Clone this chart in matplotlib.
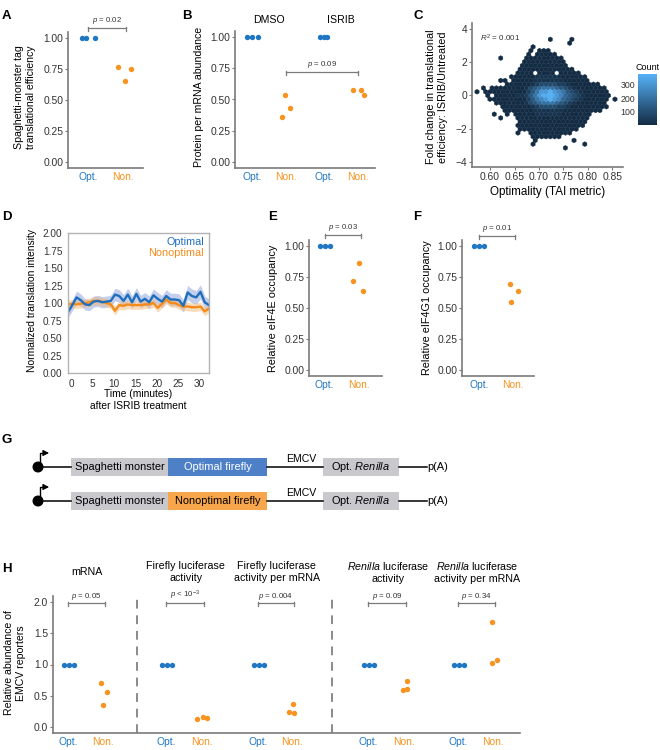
import numpy as np
import matplotlib
matplotlib.use('Agg')
import matplotlib.pyplot as plt
from matplotlib.colors import LinearSegmentedColormap, Normalize
from matplotlib.patches import Rectangle, Circle

plt.rcParams['font.family'] = ['Liberation Sans', 'DejaVu Sans']
plt.rcParams['mathtext.fontset'] = 'custom'
plt.rcParams['mathtext.rm'] = 'Liberation Sans'
plt.rcParams['mathtext.it'] = 'Liberation Sans:italic'
plt.rcParams['mathtext.bf'] = 'Liberation Sans:bold'

BLUE = '#1f77c4'
ORANGE = '#f7931e'
AXIS = '#7a7a7a'
TXT = '#333333'

# ---- data ----
# A: spaghetti-monster tag translational efficiency
a_opt = [1.00, 1.00, 1.00]
a_non = [0.77, 0.65, 0.75]

# B: protein per mRNA abundance, DMSO vs ISRIB
b_dmso_opt = [1.00, 1.00, 1.00]
b_dmso_non = [0.36, 0.54, 0.43]
b_isrib_opt = [1.00, 1.00, 1.00]
b_isrib_non = [0.58, 0.58, 0.54]

# C: hexbin counts, one string per hex row (top row first), '.' = empty cell
hex_levels = {'0': 3, '1': 25, '2': 55, '3': 90, '4': 130, '5': 170,
              '6': 210, '7': 260, '8': 310, '9': 370}
hex_top_row = 31
hex_rows = [
    "..................0....0...........",
    ".......................0...........",
    "..............0....................",
    "..............0.000................",
    ".............0.00000...............",
    ".......0.....000000000.............",
    "............0000000000.............",
    "............00000000000............",
    "...........0000000000000...........",
    "...........0000.0000.00000.........",
    ".........000000111111000000........",
    ".......00.000001111111000000......",
    "........0000001233332210000000.....",
    "...0.000000001345666543210000000....",
    ".0.00000000002468898764321000000....",
    "....0.000001124689998754321000000...",
    "....0000000002467898754321000000.0..",
    "......00000001345666543210000000....",
    ".......0000000123333221000000000.....",
    "........00000001111111000000000......",
    ".....0..0.000001111110000000.......",
    ".......0...00000000000000000.......",
    "...........0000000000000000........",
    "...........0000000000000000........",
    "...........00000000000000..........",
    "...........0..0000000000...........",
    "..............0000000..............",
    "...............0........0..........",
    "..............0...........0........",
    "......................0............",
]
c_r2 = '$\\it{R}^2$ = 0.001'

# D: normalized translation intensity after ISRIB (minutes)
d_time = [-0.8, 0.2, 1.2, 2.2, 3.2, 4.2, 5.2, 6.2, 7.2, 8.2, 9.2, 10.2,
          11.2, 12.2, 13.2, 14.2, 15.2, 16.2, 17.2, 18.2, 19.2, 20.2, 21.2,
          22.2, 23.2, 24.2, 25.2, 26.2, 27.2, 28.2, 29.2, 30.2, 31.2, 32.2]
d_opt = [0.87, 0.97, 1.08, 1.04, 0.98, 0.97, 1.02, 1.03, 1.01, 1.02, 1.03, 1.12,
         1.10, 1.03, 1.12, 1.01, 1.13, 1.02, 1.06, 1.01, 1.11, 1.06, 1.02,
         1.10, 1.05, 1.05, 1.04, 0.96, 1.15, 1.10, 1.08, 1.16, 1.01, 0.97]
d_non = [0.98, 0.99, 0.98, 0.99, 1.00, 1.01, 1.03, 1.03, 1.02, 1.00, 0.98, 0.89,
         0.97, 0.96, 0.98, 0.97, 0.97, 0.97, 0.98, 0.98, 1.00, 0.93, 0.99,
         1.05, 1.00, 1.00, 0.97, 0.95, 0.95, 0.94, 0.94, 0.95, 0.88, 0.92]
d_opt_err = [0.08, 0.08, 0.09, 0.09, 0.08, 0.08, 0.08, 0.08, 0.08, 0.08, 0.08, 0.09,
             0.09, 0.09, 0.09, 0.09, 0.09, 0.09, 0.09, 0.09, 0.09, 0.09, 0.09,
             0.09, 0.09, 0.09, 0.09, 0.09, 0.10, 0.10, 0.10, 0.10, 0.09, 0.09]
d_non_err = [0.06, 0.06, 0.06, 0.06, 0.06, 0.06, 0.06, 0.06, 0.06, 0.06, 0.06, 0.06,
             0.06, 0.06, 0.06, 0.06, 0.06, 0.06, 0.06, 0.06, 0.06, 0.06, 0.06,
             0.06, 0.06, 0.06, 0.06, 0.06, 0.06, 0.06, 0.06, 0.06, 0.06, 0.06]

# E, F: relative eIF4E / eIF4G1 occupancy
e_opt = [1.00, 1.00, 1.00]
e_non = [0.72, 0.86, 0.64]
f_opt = [1.00, 1.00, 1.00]
f_non = [0.69, 0.55, 0.64]

# G: reporter constructs
g_firefly = ['Optimal firefly', 'Nonoptimal firefly']

# H: relative abundance of EMCV reporters
h_titles = ['mRNA', 'Firefly luciferase\nactivity', 'Firefly luciferase\nactivity per mRNA',
            '$\\it{Renilla}$ luciferase\nactivity', '$\\it{Renilla}$ luciferase\nactivity per mRNA']
h_opt = [[1.0, 1.0, 1.0], [1.0, 1.0, 1.0], [1.0, 1.0, 1.0], [1.0, 1.0, 1.0], [1.0, 1.0, 1.0]]
h_non = [[0.70, 0.56, 0.35], [0.13, 0.16, 0.14], [0.24, 0.37, 0.22],
         [0.73, 0.60, 0.61], [1.68, 1.03, 1.07]]
h_p = ['$\\it{p}$ = 0.05', '$\\it{p}$ < 10$^{-3}$', '$\\it{p}$ = 0.004',
       '$\\it{p}$ = 0.09', '$\\it{p}$ = 0.34']

cats = ['Opt.', 'Non.']
cat_colors = [BLUE, ORANGE]

# ---- layout helpers ----
W, H = 660, 750
fig = plt.figure(figsize=(6.6, 7.5), dpi=100)


def px_axes(x0, y0, x1, y1):
    return fig.add_axes([x0 / W, 1 - y1 / H, (x1 - x0) / W, (y1 - y0) / H])


def ftext(x, y, s, **kw):
    kw.setdefault('color', 'black')
    fig.text(x / W, 1 - y / H, s, **kw)


def classic(ax, ticklen=2.0):
    ax.spines[['top', 'right']].set_visible(False)
    ax.spines[['left', 'bottom']].set_color(AXIS)
    ax.spines[['left', 'bottom']].set_linewidth(1.2)
    ax.tick_params(color=AXIS, labelcolor=TXT, labelsize=7.4, length=ticklen,
                   width=0.8, pad=1.5)


def cat_ticks(ax, pos, labels, colors):
    ax.set_xticks(pos, labels)
    for t, c in zip(ax.get_xticklabels(), colors):
        t.set_color(c)
    ax.tick_params(axis='x', length=0, pad=3, labelsize=7.4)


def dots(ax, x, vals, jit, color):
    ax.scatter(np.asarray(jit) + x, vals, s=15, color=color, lw=0, zorder=3, clip_on=False)


def bracket(ax, x1, x2, y, label, tick, size=5.6):
    ax.plot([x1, x2], [y, y], color=AXIS, lw=0.9, clip_on=False)
    for xx in (x1, x2):
        ax.plot([xx, xx], [y - tick, y + tick * 0.4], color=AXIS, lw=0.9, clip_on=False)
    ax.text((x1 + x2) / 2, y + tick * 0.6, label, ha='center', va='bottom',
            fontsize=size, color=TXT, clip_on=False)


def letter(x, y, s):
    ftext(x, y, s, fontsize=9.5, fontweight='bold', ha='left', va='center')


# ---- A ----
ax = px_axes(68, 31.8, 143, 168.2)
classic(ax)
dots(ax, 1, a_opt, [-0.2, -0.06, 0.18], BLUE)
dots(ax, 2, a_non, [-0.12, 0.06, 0.26], ORANGE)
ax.set_xlim(0.4, 2.6)
ax.set_ylim(-0.05, 1.05)
ax.set_yticks([0, 0.25, 0.5, 0.75, 1.0], ['0.00', '0.25', '0.50', '0.75', '1.00'])
cat_ticks(ax, [1, 2], cats, cat_colors)
bracket(ax, 1.0, 2.09, 1.08, '$\\it{p}$ = 0.02', 0.025)
ftext(25, 97, 'Spaghetti-monster tag\ntranslational efficiency', rotation=90,
      ha='center', va='center', fontsize=7.6, linespacing=1.25)
letter(2, 16, 'A')

# ---- B ----
ax = px_axes(235, 30.8, 375, 168.2)
classic(ax)
bpos = [1, 2, 3.1, 4.1]
dots(ax, bpos[0], b_dmso_opt, [-0.14, 0.0, 0.17], BLUE)
dots(ax, bpos[1], b_dmso_non, [-0.12, -0.03, 0.11], ORANGE)
dots(ax, bpos[2], b_isrib_opt, [-0.11, 0.0, 0.09], BLUE)
dots(ax, bpos[3], b_isrib_non, [-0.15, 0.09, 0.18], ORANGE)
ax.set_xlim(0.5, 4.6)
ax.set_ylim(-0.05, 1.05)
ax.set_yticks([0, 0.25, 0.5, 0.75, 1.0], ['0.00', '0.25', '0.50', '0.75', '1.00'])
cat_ticks(ax, bpos, cats * 2, cat_colors * 2)
bracket(ax, bpos[1], bpos[3], 0.72, '$\\it{p}$ = 0.09', 0.025)
ax.text(1.5, 1.14, 'DMSO', ha='center', va='center', fontsize=7.6, clip_on=False)
ax.text(3.6, 1.14, 'ISRIB', ha='center', va='center', fontsize=7.6, clip_on=False)
ftext(199, 97, 'Protein per mRNA abundance', rotation=90, ha='center', va='center',
      fontsize=7.6)
letter(182, 16, 'B')

# ---- C ----
ax = px_axes(472, 23, 623, 167)
classic(ax)
hx_ext = (0.56, 0.86, -3.6, 3.6)
hx_n = (34, 16)
sx = (hx_ext[1] - hx_ext[0]) / hx_n[0]
sy = (hx_ext[3] - hx_ext[2]) / hx_n[1]
hx, hy, hc = [], [], []
for r, row in enumerate(hex_rows):
    k = hex_top_row - r
    for i, ch in enumerate(row):
        if ch == '.':
            continue
        hx.append(hx_ext[0] + (i + 0.5 * (k % 2)) * sx)
        hy.append(hx_ext[2] + k * sy / 2)
        hc.append(hex_levels[ch])
cmap = LinearSegmentedColormap.from_list('gg', ['#132B43', '#56B1F7'])
hb = ax.hexbin(hx, hy, C=hc, gridsize=hx_n, extent=hx_ext, reduce_C_function=np.sum,
               cmap=cmap, norm=Normalize(1, 380), linewidths=0.25, edgecolors='face')
ax.set_xlim(0.563, 0.872)
ax.set_ylim(-4.3, 4.36)
ax.set_xticks([0.60, 0.65, 0.70, 0.75, 0.80, 0.85],
              ['0.60', '0.65', '0.70', '0.75', '0.80', '0.85'])
ax.set_yticks([-4, -2, 0, 2, 4])
ax.text(0.580, 3.45, c_r2, fontsize=5.8, color=TXT, va='center')
ftext(548, 192, 'Optimality (TAI metric)', ha='center', va='center', fontsize=8.4)
ftext(437, 97, 'Fold change in translational\nefficiency: ISRIB/Untreated', rotation=90,
      ha='center', va='center', fontsize=7.8, linespacing=1.2)
letter(413, 16, 'C')
cax = px_axes(638, 74, 657, 125)
cb = fig.colorbar(hb, cax=cax)
cb.outline.set_visible(False)
cb.set_ticks([100, 200, 300])
cax.yaxis.set_ticks_position('left')
cax.tick_params(length=0, labelsize=6.3, labelcolor=TXT, pad=2)
ftext(648, 67, 'Count', ha='center', va='center', fontsize=6.5)

# ---- D ----
ax = px_axes(68, 233, 209, 373)
for s in ax.spines.values():
    s.set_color('#b3b3b3')
    s.set_linewidth(1.0)
ax.tick_params(length=0, labelsize=7.2, labelcolor=TXT, pad=4)
t = np.asarray(d_time)
lo_o = np.asarray(d_opt) - np.asarray(d_opt_err)
hi_o = np.asarray(d_opt) + np.asarray(d_opt_err)
lo_n = np.asarray(d_non) - np.asarray(d_non_err)
hi_n = np.asarray(d_non) + np.asarray(d_non_err)
ax.fill_between(t, lo_o, hi_o, color='#7d96d8', alpha=0.45, lw=0)
ax.fill_between(t, lo_n, hi_n, color='#f6b36a', alpha=0.45, lw=0)
ax.plot(t, d_non, color='#f48b1a', lw=1.7)
ax.plot(t, d_opt, color='#1f6fbd', lw=1.7)
ax.set_xlim(-0.8, 32.2)
ax.set_ylim(0, 2)
ax.set_xticks([0, 5, 10, 15, 20, 25, 30])
ax.set_yticks([0, 0.25, 0.5, 0.75, 1.0, 1.25, 1.5, 1.75, 2.0],
              ['0.00', '0.25', '0.50', '0.75', '1.00', '1.25', '1.50', '1.75', '2.00'])
ax.text(0.965, 0.935, 'Optimal', color='#1f6fbd', ha='right', va='center',
        transform=ax.transAxes, fontsize=7.8)
ax.text(0.965, 0.86, 'Nonoptimal', color='#f48b1a', ha='right', va='center',
        transform=ax.transAxes, fontsize=7.8)
ftext(32, 301, 'Normalized translation intensity', rotation=90, ha='center',
      va='center', fontsize=7.4)
ftext(138, 400, 'Time (minutes)\nafter ISRIB treatment', ha='center', va='center',
      fontsize=7.4, linespacing=1.2)
letter(2, 217, 'D')

# ---- E ----
ax = px_axes(309, 239.8, 382, 376.2)
classic(ax)
dots(ax, 1, e_opt, [-0.14, 0.0, 0.14], BLUE)
dots(ax, 2, e_non, [-0.17, 0.0, 0.11], ORANGE)
ax.set_xlim(0.55, 2.65)
ax.set_ylim(-0.05, 1.05)
ax.set_yticks([0, 0.25, 0.5, 0.75, 1.0], ['0.00', '0.25', '0.50', '0.75', '1.00'])
cat_ticks(ax, [1, 2], cats, cat_colors)
bracket(ax, 1.0, 2.06, 1.09, '$\\it{p}$ = 0.03', 0.025)
ftext(273, 308, 'Relative eIF4E occupancy', rotation=90, ha='center', va='center',
      fontsize=7.8)
letter(268, 217, 'E')

# ---- F ----
ax = px_axes(462, 239.8, 534, 376.2)
classic(ax)
dots(ax, 1, f_opt, [-0.14, 0.0, 0.14], BLUE)
dots(ax, 2, f_non, [-0.11, -0.06, 0.14], ORANGE)
ax.set_xlim(0.5, 2.6)
ax.set_ylim(-0.05, 1.05)
ax.set_yticks([0, 0.25, 0.5, 0.75, 1.0], ['0.00', '0.25', '0.50', '0.75', '1.00'])
cat_ticks(ax, [1, 2], cats, cat_colors)
bracket(ax, 1.0, 2.06, 1.08, '$\\it{p}$ = 0.01', 0.025)
ftext(427, 308, 'Relative eIF4G1 occupancy', rotation=90, ha='center', va='center',
      fontsize=7.8)
letter(413, 217, 'F')

# ---- G ----
gx = px_axes(0, 440, 660, 520)
gx.set_xlim(0, 660)
gx.set_ylim(520, 440)
gx.axis('off')
g_colors = ['#4d80c6', '#f8a64c']
g_text = ['white', 'black']
for j, (lab, col, tc) in enumerate(zip(g_firefly, g_colors, g_text)):
    yc = 467 + 34 * j
    gx.plot([38, 71], [yc, yc], color='black', lw=1.1)
    gx.plot([39.5, 39.5, 45], [yc, yc - 14, yc - 14], color='black', lw=1.0)
    gx.annotate('', xy=(49, yc - 14), xytext=(44, yc - 14),
                arrowprops=dict(arrowstyle='-|>,head_length=0.35,head_width=0.18',
                                color='black', lw=0.8, shrinkA=0, shrinkB=0))
    gx.add_patch(Circle((38, yc), 4.8, color='black', zorder=3))
    gx.add_patch(Rectangle((71, yc - 9), 97, 18, color='#c9c9cd', lw=0))
    gx.text(119.5, yc, 'Spaghetti monster', ha='center', va='center', fontsize=7.9)
    gx.add_patch(Rectangle((168, yc - 9), 99, 18, color=col, lw=0))
    gx.text(217.5, yc, lab, ha='center', va='center', fontsize=7.9, color=tc)
    gx.plot([267, 323], [yc, yc], color='black', lw=1.1)
    gx.text(301, yc - 2.5, 'EMCV', ha='center', va='bottom', fontsize=7.6)
    gx.add_patch(Rectangle((323, yc - 9), 76, 18, color='#c9c9cd', lw=0))
    gx.text(361, yc, 'Opt. $\\it{Renilla}$', ha='center', va='center', fontsize=7.9)
    gx.plot([399, 427], [yc, yc], color='black', lw=1.1)
    gx.text(427, yc, 'p(A)', ha='left', va='center', fontsize=7.9)
letter(2, 440, 'G')

# ---- H ----
ax = px_axes(53, 595.75, 520, 733.25)
classic(ax)
h_opt_pos = [1.0, 3.8, 6.43, 9.57, 12.14]
h_non_pos = [2.0, 4.83, 7.4, 10.6, 13.14]
h_non_jit = [[-0.06, 0.11, 0.0], [-0.14, 0.03, 0.14], [-0.09, 0.03, 0.06],
             [0.09, -0.03, 0.09], [-0.03, -0.03, 0.11]]
for g in range(5):
    dots(ax, h_opt_pos[g], h_opt[g], [-0.12, 0.02, 0.16], BLUE)
    dots(ax, h_non_pos[g], h_non[g], h_non_jit[g], ORANGE)
    bracket(ax, h_opt_pos[g], h_non_pos[g] + 0.05, 1.98, h_p[g], 0.04, size=5.7)
    ax.text((h_opt_pos[g] + h_non_pos[g]) / 2 + 0.05, 2.48, h_titles[g], ha='center',
            va='center', fontsize=7.7, linespacing=1.15, clip_on=False)
for xd in (2.97, 8.54):
    ax.plot([xd, xd], [-0.1, 2.1], color='#8a8a8a', lw=1.4, ls=(0, (4.5, 3.5)),
            clip_on=False)
ax.set_xlim(0.571, 13.91)
ax.set_ylim(-0.1, 2.1)
ax.set_yticks([0, 0.5, 1.0, 1.5, 2.0], ['0.0', '0.5', '1.0', '1.5', '2.0'])
ticks_x = []
for a, b in zip(h_opt_pos, h_non_pos):
    ticks_x += [a, b]
cat_ticks(ax, ticks_x, cats * 5, cat_colors * 5)
ftext(15, 663, 'Relative abundance of\nEMCV reporters', rotation=90, ha='center',
      va='center', fontsize=7.6, linespacing=1.2)
letter(2, 569, 'H')

fig.savefig('out.png', dpi=100)
